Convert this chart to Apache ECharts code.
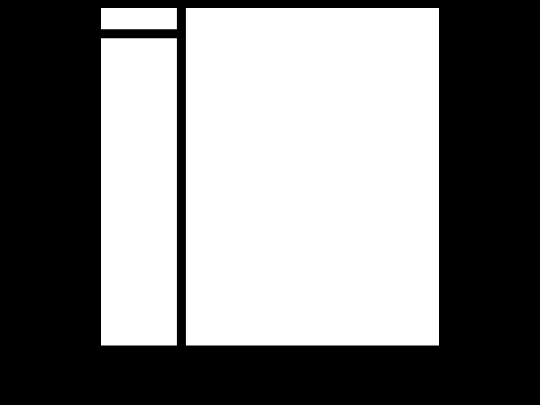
<!DOCTYPE html>
<html>
<head>
    <meta charset="utf-8">
    <script src="https://cdn.jsdelivr.net/npm/echarts@6/dist/echarts.min.js"></script>
</head>
<body style="margin:0;background:#000;">
    <div id="container" style="width: 540px;height: 405px;"></div>
    <script type="text/javascript">
        // 各块名称和数值
        var names = ['A', 'B', 'C'];
        var values = [2.4, 25.2, 85.2];

        var dom = document.getElementById("container");
        var myChart = echarts.init(dom);

        var data = [];
        for (var i = 0; i < names.length; i++) {
            data.push({ name: names[i], value: values[i] });
        }

        var option = {
            backgroundColor: '#000',
            animation: false,
            series: [{
                type: 'treemap',
                left: 101,
                top: 8,
                width: 338,
                height: 337.5,
                roam: false,
                nodeClick: false,
                sort: 'asc',
                breadcrumb: { show: false },
                label: { show: false },
                upperLabel: { show: false },
                itemStyle: {
                    color: '#fff',
                    borderColor: '#000',
                    borderWidth: 0,
                    gapWidth: 9
                },
                levels: [
                    { itemStyle: { borderColor: '#000', borderWidth: 0, gapWidth: 9 } },
                    { itemStyle: { color: '#fff', borderWidth: 0 } }
                ],
                data: data
            }]
        };
        myChart.setOption(option);
    </script>
</body>
</html>
